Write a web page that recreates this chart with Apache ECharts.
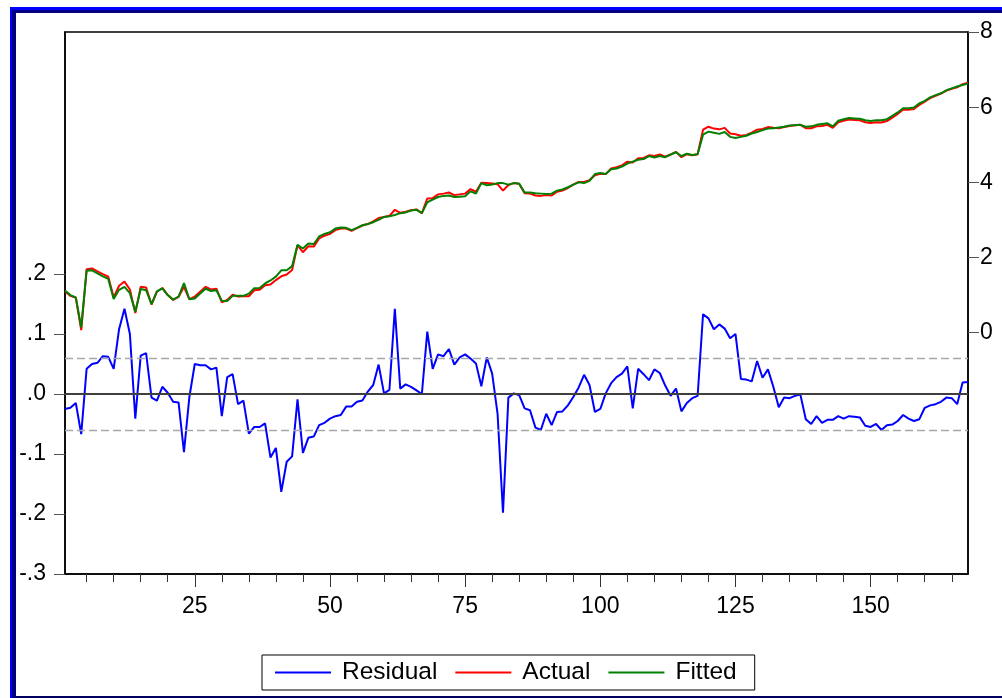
<!DOCTYPE html>
<html>
<head>
<meta charset="utf-8">
<script src="https://cdn.jsdelivr.net/npm/echarts@6/dist/echarts.min.js"></script>
<style>
html,body{margin:0;padding:0;background:#fff;}
#chart{width:1002px;height:698px;}
</style>
</head>
<body>
<div id="chart"></div>
<script>
// ---- data ----
var observations = [];
for (var i = 1; i <= 168; i++) observations.push(String(i));

var residual = [
-0.025,-0.023,-0.015,-0.067,0.042,0.050,0.052,0.063,0.062,0.042,
0.108,0.142,0.100,-0.041,0.064,0.068,-0.006,-0.011,0.012,0.002,
-0.013,-0.014,-0.097,-0.005,0.050,0.048,0.048,0.041,0.044,-0.037,
0.028,0.033,-0.017,-0.011,-0.066,-0.055,-0.055,-0.049,-0.106,-0.090,
-0.163,-0.113,-0.104,-0.009,-0.098,-0.073,-0.071,-0.052,-0.048,-0.041,
-0.037,-0.035,-0.021,-0.021,-0.013,-0.011,0.004,0.015,0.049,0.001,
0.007,0.142,0.009,0.016,0.012,0.006,0.000,0.104,0.042,0.066,
0.063,0.075,0.049,0.061,0.066,0.059,0.051,0.013,0.061,0.034,
-0.033,-0.198,-0.006,0.001,-0.002,-0.024,-0.027,-0.056,-0.060,-0.033,
-0.052,-0.030,-0.029,-0.019,-0.005,0.011,0.032,0.015,-0.030,-0.025,
0.001,0.018,0.028,0.034,0.046,-0.024,0.042,0.033,0.023,0.041,
0.035,0.014,-0.003,0.009,-0.029,-0.015,-0.007,-0.003,0.133,0.126,
0.108,0.116,0.109,0.093,0.100,0.025,0.024,0.021,0.055,0.027,
0.041,0.012,-0.022,-0.006,-0.007,-0.003,-0.001,-0.042,-0.050,-0.037,
-0.048,-0.043,-0.043,-0.037,-0.041,-0.037,-0.038,-0.039,-0.053,-0.055,
-0.050,-0.060,-0.052,-0.051,-0.045,-0.035,-0.041,-0.045,-0.042,-0.023,
-0.019,-0.017,-0.013,-0.006,-0.007,-0.017,0.019,0.020
];

var actual = [
1.10,0.98,0.93,0.07,1.69,1.71,1.63,1.56,1.49,0.94,
1.25,1.36,1.15,0.52,1.22,1.20,0.75,1.09,1.19,1.00,
0.87,0.95,1.22,0.89,0.96,1.09,1.22,1.15,1.17,0.81,
0.87,1.01,0.96,0.97,0.97,1.13,1.14,1.26,1.28,1.40,
1.50,1.55,1.67,2.33,2.14,2.30,2.29,2.51,2.58,2.63,
2.73,2.77,2.77,2.71,2.78,2.85,2.89,2.96,3.05,3.08,
3.11,3.27,3.19,3.22,3.26,3.28,3.18,3.57,3.58,3.68,
3.70,3.73,3.66,3.68,3.70,3.82,3.75,3.99,3.98,3.97,
3.95,3.78,3.93,3.98,3.96,3.71,3.70,3.65,3.64,3.66,
3.65,3.75,3.78,3.85,3.94,4.01,4.01,4.06,4.19,4.23,
4.22,4.37,4.40,4.45,4.55,4.53,4.64,4.65,4.72,4.70,
4.74,4.68,4.74,4.81,4.67,4.75,4.72,4.75,5.40,5.48,
5.43,5.41,5.45,5.30,5.28,5.24,5.26,5.32,5.40,5.42,
5.47,5.45,5.44,5.47,5.50,5.52,5.53,5.44,5.44,5.49,
5.50,5.53,5.45,5.60,5.64,5.67,5.66,5.65,5.60,5.58,
5.60,5.59,5.63,5.72,5.82,5.94,5.93,5.95,6.06,6.15,
6.24,6.30,6.36,6.44,6.49,6.53,6.61,6.65
];

var fitted = [
1.12,1.00,0.94,0.14,1.65,1.66,1.58,1.50,1.43,0.90,
1.14,1.22,1.05,0.56,1.16,1.13,0.76,1.10,1.18,1.00,
0.88,0.96,1.32,0.89,0.91,1.04,1.17,1.11,1.13,0.85,
0.84,0.98,0.98,0.98,1.04,1.18,1.19,1.31,1.39,1.49,
1.66,1.66,1.77,2.34,2.24,2.37,2.36,2.56,2.63,2.67,
2.77,2.80,2.79,2.73,2.79,2.86,2.89,2.94,3.00,3.08,
3.10,3.13,3.18,3.20,3.25,3.27,3.18,3.47,3.54,3.61,
3.64,3.65,3.61,3.62,3.63,3.76,3.70,3.98,3.92,3.94,
3.98,3.98,3.94,3.98,3.96,3.73,3.73,3.71,3.70,3.69,
3.70,3.78,3.81,3.87,3.94,4.00,3.98,4.04,4.22,4.25,
4.22,4.35,4.37,4.42,4.50,4.55,4.60,4.62,4.70,4.66,
4.70,4.67,4.74,4.80,4.70,4.76,4.73,4.75,5.27,5.35,
5.32,5.29,5.34,5.21,5.18,5.21,5.24,5.30,5.34,5.39,
5.43,5.44,5.46,5.48,5.51,5.52,5.53,5.48,5.49,5.53,
5.55,5.57,5.49,5.64,5.68,5.71,5.70,5.69,5.65,5.63,
5.65,5.65,5.68,5.77,5.86,5.97,5.97,5.99,6.10,6.17,
6.26,6.32,6.37,6.45,6.50,6.55,6.59,6.63
];

var residualBand = 0.0551;          // +/- 1 S.E. dashed lines
var leftTicks = [-0.3, -0.2, -0.1, 0, 0.1, 0.2];
var rightTicks = [0, 2, 4, 6, 8];
var majorStep = 25, minorStep = 5;

// ---- chart ----
var FONT = '"Liberation Sans", Arial, sans-serif';
var chart = echarts.init(document.getElementById('chart'), null, {renderer: 'canvas'});

function fmtLeft(v) {
  var s = (Math.round(v * 10) / 10).toFixed(1);
  return s.replace('0.', '.');
}

var option = {
  animation: false,
  backgroundColor: '#ffffff',
  textStyle: {fontFamily: FONT},
  graphic: [
    {type: 'rect', shape: {x: 10, y: 7, width: 992, height: 3}, style: {fill: '#0000ff'}, silent: true},
    {type: 'rect', shape: {x: 12, y: 10, width: 990, height: 3}, style: {fill: '#000080'}, silent: true},
    {type: 'rect', shape: {x: 10, y: 7, width: 2, height: 691}, style: {fill: '#0000ff'}, silent: true},
    {type: 'rect', shape: {x: 12, y: 10, width: 4, height: 688}, style: {fill: '#000080'}, silent: true},
    {type: 'rect', shape: {x: 16, y: 696, width: 986, height: 2}, style: {fill: '#000060'}, silent: true}
  ],
  grid: {
    left: 65, right: 34, top: 32, bottom: 124,
    show: true, borderColor: '#000', borderWidth: 1.5, backgroundColor: 'transparent',
    containLabel: false
  },
  legend: {
    left: 262, top: 655,
    padding: [5, 18, 5, 13],
    itemGap: 18,
    itemWidth: 56, itemHeight: 2,
    icon: 'rect',
    borderColor: '#000', borderWidth: 1,
    textStyle: {fontSize: 24.5, color: '#000', fontFamily: FONT, padding: [0, 0, 0, 6]},
    data: ['Residual', 'Actual', 'Fitted']
  },
  xAxis: [
    {
      type: 'category', data: observations, boundaryGap: false, position: 'bottom',
      axisLine: {show: true, onZero: false, lineStyle: {color: '#000', width: 1.5}},
      axisTick: {
        show: true, length: 8, lineStyle: {color: '#333', width: 1},
        interval: function (idx) { return (idx + 1) % minorStep === 0 && (idx + 1) % majorStep !== 0; }
      },
      axisLabel: {
        show: true, margin: 21, fontSize: 23, color: '#000', fontFamily: FONT,
        interval: function (idx) { return (idx + 1) % majorStep === 0; }
      },
      splitLine: {show: false}
    },
    {
      type: 'category', data: observations, boundaryGap: false, position: 'bottom',
      axisLine: {show: false, onZero: false},
      axisTick: {
        show: true, length: 13, lineStyle: {color: '#333', width: 1},
        interval: function (idx) { return (idx + 1) % majorStep === 0; }
      },
      axisLabel: {show: false},
      splitLine: {show: false}
    }
  ],
  yAxis: [
    {
      type: 'value', position: 'left', min: -0.3, max: 0.6033,
      axisLine: {show: true, lineStyle: {color: '#000', width: 1.5}},
      axisTick: {show: true, length: 11, customValues: leftTicks, lineStyle: {color: '#555', width: 1}},
      axisLabel: {show: true, customValues: leftTicks, formatter: fmtLeft, margin: 19, fontSize: 23, color: '#000', fontFamily: FONT},
      splitLine: {show: false}
    },
    {
      type: 'value', position: 'right', min: -6.42, max: 8,
      axisLine: {show: true, lineStyle: {color: '#000', width: 1.5}},
      axisTick: {show: true, length: 11, customValues: rightTicks, lineStyle: {color: '#555', width: 1}},
      axisLabel: {show: true, customValues: rightTicks, margin: 12, fontSize: 23, color: '#000', fontFamily: FONT},
      splitLine: {show: false}
    }
  ],
  series: [
    {
      name: 'Residual', type: 'line', xAxisIndex: 0, yAxisIndex: 0, data: residual,
      symbol: 'none', color: '#0000ff',
      lineStyle: {color: '#0000ff', width: 2}, itemStyle: {color: '#0000ff'},
      z: 2,
      markLine: {
        silent: true, symbol: 'none', label: {show: false},
        data: [
          {yAxis: 0, lineStyle: {type: 'solid', color: '#404040', width: 2}},
          {yAxis: residualBand, lineStyle: {type: [8, 4], color: '#a8a8a8', width: 1.3}},
          {yAxis: -residualBand, lineStyle: {type: [8, 4], color: '#a8a8a8', width: 1.3}}
        ]
      }
    },
    {
      name: 'Actual', type: 'line', xAxisIndex: 0, yAxisIndex: 1, data: actual,
      symbol: 'none', color: '#ff0000',
      lineStyle: {color: '#ff0000', width: 2}, itemStyle: {color: '#ff0000'},
      z: 3
    },
    {
      name: 'Fitted', type: 'line', xAxisIndex: 0, yAxisIndex: 1, data: fitted,
      symbol: 'none', color: '#008000',
      lineStyle: {color: '#008000', width: 2}, itemStyle: {color: '#008000'},
      z: 4
    }
  ]
};
chart.setOption(option);
</script>
</body>
</html>
